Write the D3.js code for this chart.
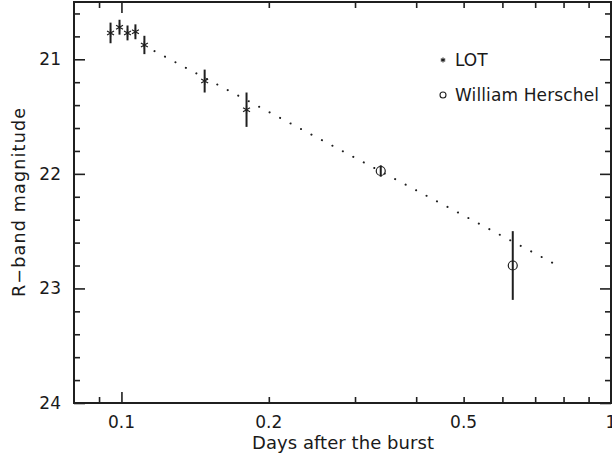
<!DOCTYPE html>
<html><head><meta charset="utf-8">
<script src="https://cdn.jsdelivr.net/npm/d3@7"></script>
<style>body{margin:0;background:#fff}svg{display:block}text{font-family:"DejaVu Sans",sans-serif;fill:#1a1a1a}</style>
</head><body><svg id="c" width="612" height="459"></svg>
<script>
// Data
const lotDays = [0.0950, 0.0991, 0.1029, 0.1068, 0.1114, 0.1479, 0.1801];
const lotMag  = [20.77, 20.72, 20.77, 20.76, 20.875, 21.19, 21.44];
const lotErr  = [0.09, 0.065, 0.065, 0.065, 0.08, 0.10, 0.15];
const whtDays = [0.3386, 0.630];
const whtMag  = [21.975, 22.80];
const whtErr  = [0.05, 0.30];
const fitDays = [0.1112, 0.786];
const fitMag  = [20.88, 22.81];
const xLabelTicks = [0.1, 0.2, 0.5, 1];
const xMajorTicks = [0.1, 1];
const xMinorTicks = [0.09, 0.2, 0.3, 0.4, 0.5, 0.6, 0.7, 0.8, 0.9];
const yMajorTicks = [21, 22, 23, 24];
const yMinorTicks = [20.6,20.8,21.2,21.4,21.6,21.8,22.2,22.4,22.6,22.8,23.2,23.4,23.6,23.8];
const legendNames = ["LOT", "William Herschel"];

const L = 74, R = 611, T = 2, B = 403;
const svg = d3.select("#c");
const x = d3.scaleLog().domain([0.08, 1]).range([L, R]);
const y = d3.scaleLinear().domain([20.5, 24]).range([T, B]);
const ink = "#1f1f1f";

function axis(gen, transform, vals, size) {
  const g = svg.append("g").attr("transform", transform)
    .call(gen.tickValues(vals).tickSize(size).tickSizeOuter(0).tickFormat(""));
  g.select(".domain").remove();
  g.selectAll(".tick line").attr("stroke", ink).attr("stroke-width", 1.6);
  g.selectAll("text").remove();
  return g;
}
// x ticks (bottom and top, inward)
axis(d3.axisTop(x), `translate(0,${B})`, xMajorTicks, 11);
axis(d3.axisTop(x), `translate(0,${B})`, xMinorTicks, 6);
axis(d3.axisBottom(x), `translate(0,${T})`, xMajorTicks, 11);
axis(d3.axisBottom(x), `translate(0,${T})`, xMinorTicks, 6);
// y ticks (left and right, inward)
axis(d3.axisRight(y), `translate(${L},0)`, yMajorTicks, 11);
axis(d3.axisRight(y), `translate(${L},0)`, yMinorTicks, 6);
axis(d3.axisLeft(y), `translate(${R},0)`, yMajorTicks, 11);
axis(d3.axisLeft(y), `translate(${R},0)`, yMinorTicks, 6);

// frame
svg.append("rect").attr("x", L).attr("y", T).attr("width", R - L).attr("height", B - T)
  .attr("fill", "none").attr("stroke", ink).attr("stroke-width", 2);

// tick labels
svg.append("g").selectAll("text").data(xLabelTicks).join("text")
  .attr("x", d => x(d)).attr("y", 428).attr("text-anchor", "middle")
  .attr("font-size", 17).text(d => d3.format("")(d));
svg.append("g").selectAll("text").data(yMajorTicks).join("text")
  .attr("x", 61).attr("y", d => y(d) + 6).attr("text-anchor", "end")
  .attr("font-size", 17).text(d => d);

// titles
svg.append("text").attr("x", 343).attr("y", 449).attr("text-anchor", "middle")
  .attr("font-size", 18).attr("textLength", 182).attr("lengthAdjust", "spacing")
  .text("Days after the burst");
svg.append("text").attr("transform", `translate(25,${(T + B) / 2}) rotate(-90)`)
  .attr("text-anchor", "middle").attr("font-size", 17.5)
  .attr("textLength", 189).attr("lengthAdjust", "spacing")
  .text("R\u2212band magnitude");

// fit dotted line
const fit = fitDays.map((d, i) => [d, fitMag[i]]);
svg.append("path").datum(fit)
  .attr("d", d3.line().x(d => x(d[0])).y(d => y(d[1])))
  .attr("fill", "none").attr("stroke", ink).attr("stroke-width", 2)
  .attr("stroke-linecap", "round").attr("stroke-dasharray", "0.1 11.75");

// error bars
function errBars(days, mag, err) {
  svg.append("g").selectAll("line").data(days).join("line")
    .attr("x1", d => x(d)).attr("x2", d => x(d))
    .attr("y1", (d, i) => y(mag[i] - err[i])).attr("y2", (d, i) => y(mag[i] + err[i]))
    .attr("stroke", ink).attr("stroke-width", 2);
}
errBars(lotDays, lotMag, lotErr);
errBars(whtDays, whtMag, whtErr);

// markers
const ast = d3.symbol().type(d3.symbolAsterisk).size(45);
svg.append("g").selectAll("path").data(lotDays).join("path")
  .attr("transform", (d, i) => `translate(${x(d)},${y(lotMag[i])})`)
  .attr("d", ast).attr("fill", "none").attr("stroke", ink).attr("stroke-width", 1.2);
svg.append("g").selectAll("circle").data(whtDays).join("circle")
  .attr("cx", d => x(d)).attr("cy", (d, i) => y(whtMag[i])).attr("r", 4.5)
  .attr("fill", "none").attr("stroke", ink).attr("stroke-width", 1.2);

// legend
const lg = svg.append("g");
lg.append("path").attr("transform", "translate(443,60)")
  .attr("d", d3.symbol().type(d3.symbolAsterisk).size(18)).attr("fill", "none")
  .attr("stroke", ink).attr("stroke-width", 1.1);
lg.append("circle").attr("cx", 443).attr("cy", 95).attr("r", 3)
  .attr("fill", "none").attr("stroke", ink).attr("stroke-width", 1.1);
lg.append("text").attr("x", 455).attr("y", 66).attr("font-size", 17).text(legendNames[0]);
lg.append("text").attr("x", 455).attr("y", 101).attr("font-size", 17)
  .attr("textLength", 144).attr("lengthAdjust", "spacing").text(legendNames[1]);
</script></body></html>
